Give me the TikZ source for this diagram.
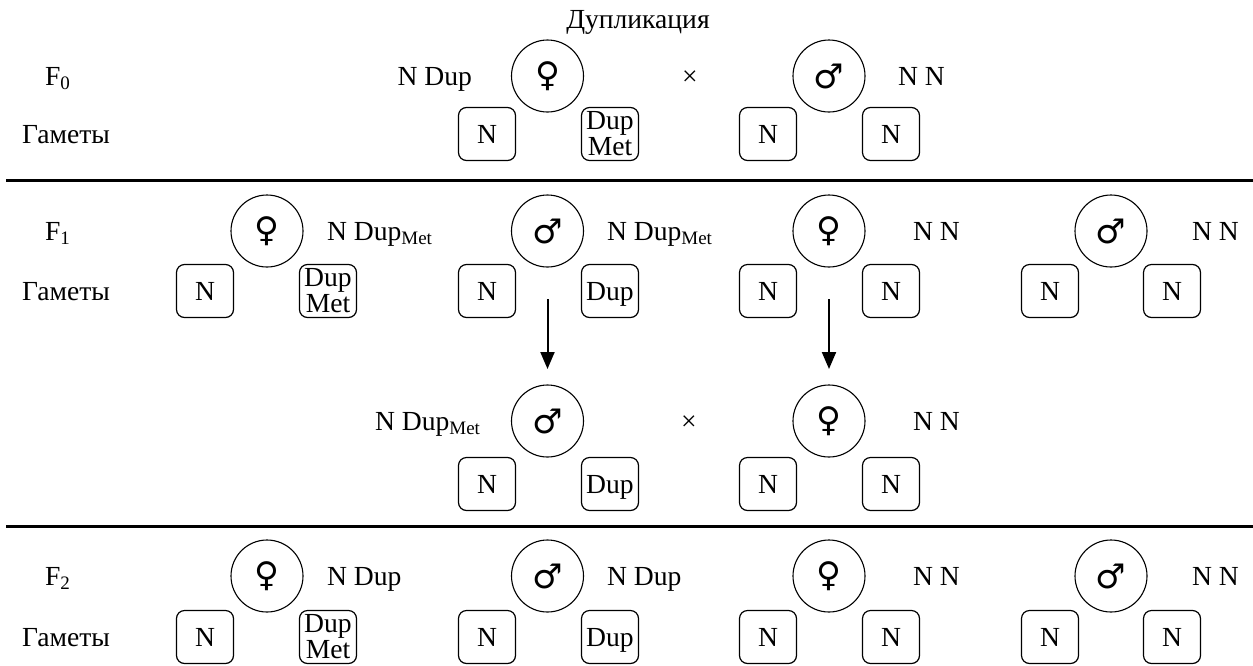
\documentclass[tikz,border=0pt]{standalone}
\usepackage{fontspec}
\setmainfont{Liberation Serif}
\newfontfamily\symfont{DejaVu Sans}
\usetikzlibrary{arrows.meta}
\newcommand\lowsub[1]{\raisebox{-0.35ex}{\fontsize{9.5}{10}\selectfont #1}}
\tikzset{
  every node/.style={inner sep=0pt, outer sep=0pt},
  txt/.style={font=\fontsize{13.8}{15}\selectfont},
  sexc/.style={circle, draw, line width=0.55pt, minimum size=36pt, font=\symfont\fontsize{17}{17}\selectfont},
  gam/.style={draw, rounded corners=4pt, line width=0.6pt, minimum width=28.5pt, minimum height=26.5pt, align=center, font=\fontsize{13.8}{11.5}\selectfont},
  gamone/.style={draw, rounded corners=4pt, line width=0.6pt, minimum width=28.5pt, minimum height=26.5pt, text depth=0pt, font=\fontsize{13.8}{15}\selectfont},
  rulel/.style={line width=1.5pt},
  arr/.style={line width=1pt, -{Triangle[length=8.5pt,width=7pt]}},
}
\begin{document}
\begin{tikzpicture}[x=0.5pt,y=-0.5pt]
\useasboundingbox (0,0) rectangle (1253,665);
% title
\node[txt, anchor=base] (title) at (638,28) {Дупликация};
% F0
\node[txt, anchor=base west] (lF0) at (45,85) {F\lowsub{0}};
\node[txt, anchor=base west] (lG0) at (22,143) {Гаметы};
\node[txt, anchor=base east] (t0a) at (472,85) {N Dup};
\node[sexc] (c0f) at (547.5,76) {♀};
\node[txt, anchor=base] (x0) at (690,85) {×};
\node[sexc] (c0m) at (829,76) {♂};
\node[txt, anchor=base west] (t0b) at (898,85) {N N};
\node[gamone] (b0a) at (487,134) {N};
\node[gam] (b0b) at (610,134) {Dup\\Met};
\node[gamone] (b0c) at (768,134) {N};
\node[gamone] (b0d) at (891,134) {N};
% rule 1
\coordinate (r1a) at (6,180);
\coordinate (r1b) at (1253,180);
\draw[rulel] (r1a) -- (r1b);
% F1
\node[txt, anchor=base west] (lF1) at (45,240) {F\lowsub{1}};
\node[txt, anchor=base west] (lG1) at (22,300) {Гаметы};
\node[sexc] (c1a) at (267,231) {♀};
\node[txt, anchor=base west] (t1a) at (327,240) {N Dup\lowsub{Met}};
\node[sexc] (c1b) at (547.5,231) {♂};
\node[txt, anchor=base west] (t1b) at (607,240) {N Dup\lowsub{Met}};
\node[sexc] (c1c) at (829,231) {♀};
\node[txt, anchor=base west] (t1c) at (913,240) {N N};
\node[sexc] (c1d) at (1111,231) {♂};
\node[txt, anchor=base west] (t1d) at (1192,240) {N N};
\node[gamone] (b1a) at (205,291) {N};
\node[gam] (b1b) at (328,291) {Dup\\Met};
\node[gamone] (b1c) at (487,291) {N};
\node[gamone] (b1d) at (610,291) {Dup};
\node[gamone] (b1e) at (768,291) {N};
\node[gamone] (b1f) at (891,291) {N};
\node[gamone] (b1g) at (1050,291) {N};
\node[gamone] (b1h) at (1172,291) {N};
% middle cross
\node[txt, anchor=base east] (tma) at (480,430) {N Dup\lowsub{Met}};
\node[sexc] (cma) at (547.5,421) {♂};
\node[txt, anchor=base] (xm) at (689,430) {×};
\node[sexc] (cmb) at (829,421) {♀};
\node[txt, anchor=base west] (tmb) at (913,430) {N N};
\node[gamone] (bma) at (487,484) {N};
\node[gamone] (bmb) at (610,484) {Dup};
\node[gamone] (bmc) at (768,484) {N};
\node[gamone] (bmd) at (891,484) {N};
\draw[arr, shorten <=16pt, shorten >=8pt] (c1b) -- (cma);
\draw[arr, shorten <=16pt, shorten >=8pt] (c1c) -- (cmb);
% rule 2
\coordinate (r2a) at (6,526);
\coordinate (r2b) at (1253,526);
\draw[rulel] (r2a) -- (r2b);
% F2
\node[txt, anchor=base west] (lF2) at (45,585) {F\lowsub{2}};
\node[txt, anchor=base west] (lG2) at (22,646) {Гаметы};
\node[sexc] (c2a) at (267,576) {♀};
\node[txt, anchor=base west] (t2a) at (327,585) {N Dup};
\node[sexc] (c2b) at (547.5,576) {♂};
\node[txt, anchor=base west] (t2b) at (607,585) {N Dup};
\node[sexc] (c2c) at (829,576) {♀};
\node[txt, anchor=base west] (t2c) at (913,585) {N N};
\node[sexc] (c2d) at (1111,576) {♂};
\node[txt, anchor=base west] (t2d) at (1192,585) {N N};
\node[gamone] (b2a) at (205,637) {N};
\node[gam] (b2b) at (328,637) {Dup\\Met};
\node[gamone] (b2c) at (487,637) {N};
\node[gamone] (b2d) at (610,637) {Dup};
\node[gamone] (b2e) at (768,637) {N};
\node[gamone] (b2f) at (891,637) {N};
\node[gamone] (b2g) at (1050,637) {N};
\node[gamone] (b2h) at (1172,637) {N};
\end{tikzpicture}
\end{document}
